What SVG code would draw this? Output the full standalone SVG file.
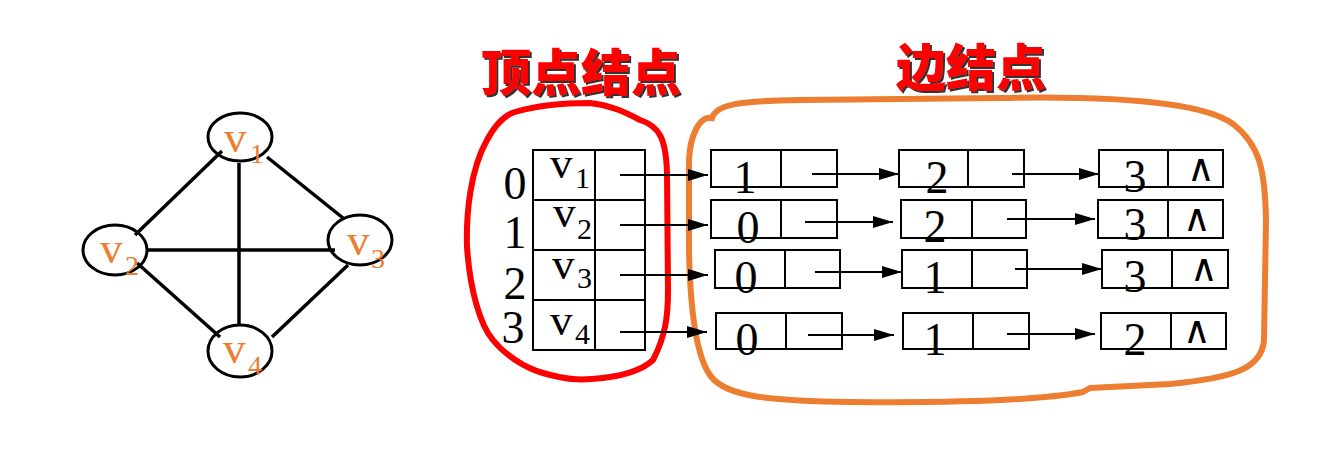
<svg xmlns="http://www.w3.org/2000/svg" width="1330" height="470" viewBox="0 0 1330 470">
<defs>
<marker id="ah" markerUnits="userSpaceOnUse" markerWidth="22" markerHeight="14" refX="20" refY="7" orient="auto"><path d="M0,1 L20,7 L0,13 z" fill="#000"/></marker>
<filter id="sh" x="-10%" y="-10%" width="130%" height="130%"><feDropShadow dx="2" dy="2" stdDeviation="0.6" flood-color="#333"/></filter>
</defs>
<style>
.vn{fill:none;stroke:#000;stroke-width:3}
.ge{stroke:#000;stroke-width:3.5;fill:none}
.ol{fill:#ed7d31;font-family:"Liberation Serif",serif}
.bx{fill:none;stroke:#000;stroke-width:2}
.tx{font-family:"Liberation Serif",serif;fill:#000}
.ar{stroke:#000;stroke-width:2;fill:none;marker-end:url(#ah)}
.ti{font-family:"Noto Sans CJK SC",sans-serif;font-weight:900;font-size:50px;fill:#ff0000;filter:url(#sh)}
.nl{font-family:"DejaVu Sans",sans-serif;font-size:38px;text-anchor:middle}
.dg{font-size:46px;text-anchor:middle}
</style>
<rect width="1330" height="470" fill="#fff"/>
<g id="graph-edges">
<line class="ge" x1="222" y1="151" x2="135" y2="235"/>
<line class="ge" x1="267" y1="157" x2="343" y2="218"/>
<line class="ge" x1="239" y1="163" x2="239" y2="325"/>
<line class="ge" x1="147" y1="250" x2="335" y2="250"/>
<line class="ge" x1="137" y1="263" x2="220" y2="337"/>
<line class="ge" x1="348" y1="265" x2="272" y2="337"/>
</g>
<g id="v1"><ellipse class="vn" cx="240" cy="137" rx="32" ry="24"/><text class="ol" font-size="45" x="224" y="152">v<tspan font-size="28" x="250" y="163">1</tspan></text></g>
<g id="v2"><ellipse class="vn" cx="115" cy="250" rx="32" ry="25"/><text class="ol" font-size="45" x="100" y="263">v<tspan font-size="28" x="125" y="275">2</tspan></text></g>
<g id="v3"><ellipse class="vn" cx="360" cy="240" rx="32" ry="25"/><text class="ol" font-size="45" x="347" y="255">v<tspan font-size="28" x="371" y="268">3</tspan></text></g>
<g id="v4"><ellipse class="vn" cx="240" cy="351" rx="32" ry="26"/><text class="ol" font-size="45" x="223" y="363">v<tspan font-size="28" x="248" y="375">4</tspan></text></g>

<g id="title-vertex"><text class="ti" x="481" y="91">顶点结点</text></g>
<g id="title-edge"><text class="ti" x="896" y="86">边结点</text></g>

<g id="red-outline"><path d="M515,112 C535,106 560,103 590,103 C610,105 625,112 640,120 C660,126 666,140 667,173 L668,290 C668,315 666,335 653,360 C640,372 620,376 603,378 C585,380 570,381 543,373 C525,368 505,355 493,340 C480,325 470,290 467,247 C466,215 470,170 487,140 C495,125 505,115 515,112 Z" fill="none" stroke="#ff0000" stroke-width="6"/></g>
<g id="orange-outline"><path d="M712,118 C716,104 740,101 800,100 L1000,98 C1100,96 1200,100 1233,124 C1260,145 1265,170 1266,220 L1264,340 C1262,370 1230,378 1170,384 L1090,388 L1083,392 C1040,400 950,403 850,402 C760,401 720,395 708,372 C695,350 690,300 689,250 L689,160 C690,135 700,115 712,118 Z" fill="none" stroke="#ed7d31" stroke-width="6"/></g>

<g id="vertex-table">
<rect class="bx" x="533" y="150" width="112" height="200"/>
<line class="bx" x1="595" y1="150" x2="595" y2="350"/>
<line class="bx" x1="533" y1="200" x2="645" y2="200"/>
<line class="bx" x1="533" y1="250" x2="645" y2="250"/>
<line class="bx" x1="533" y1="300" x2="645" y2="300"/>
<text class="tx dg" x="515" y="199">0</text>
<text class="tx dg" x="515" y="248">1</text>
<text class="tx dg" x="515" y="299">2</text>
<text class="tx dg" x="513" y="343">3</text>
<text class="tx" font-size="45" x="550" y="178">v<tspan font-size="30" x="575" y="188">1</tspan></text>
<text class="tx" font-size="45" x="553" y="227">v<tspan font-size="30" x="577" y="239">2</tspan></text>
<text class="tx" font-size="45" x="552" y="279">v<tspan font-size="30" x="577" y="288">3</tspan></text>
<text class="tx" font-size="45" x="550" y="335">v<tspan font-size="30" x="575" y="344">4</tspan></text>
</g>

<g id="e00"><rect class="bx" x="711" y="150" width="126" height="37"/><line class="bx" x1="781" y1="150" x2="781" y2="187"/><text class="tx dg" x="745" y="193">1</text></g>
<g id="e01"><rect class="bx" x="899" y="150" width="125" height="37"/><line class="bx" x1="968" y1="150" x2="968" y2="187"/><text class="tx dg" x="937" y="193">2</text></g>
<g id="e02"><rect class="bx" x="1099" y="150" width="124" height="37"/><line class="bx" x1="1168" y1="150" x2="1168" y2="187"/><text class="tx dg" x="1135" y="192">3</text><text class="nl" x="1201" y="181">∧</text></g>

<g id="e10"><rect class="bx" x="711" y="200" width="126" height="38"/><line class="bx" x1="781" y1="200" x2="781" y2="238"/><text class="tx dg" x="748" y="243">0</text></g>
<g id="e11"><rect class="bx" x="901" y="200" width="125" height="38"/><line class="bx" x1="972" y1="200" x2="972" y2="238"/><text class="tx dg" x="935" y="242">2</text></g>
<g id="e12"><rect class="bx" x="1098" y="200" width="125" height="38"/><line class="bx" x1="1168" y1="200" x2="1168" y2="238"/><text class="tx dg" x="1135" y="240">3</text><text class="nl" x="1197" y="231">∧</text></g>

<g id="e20"><rect class="bx" x="715" y="250" width="125" height="38"/><line class="bx" x1="785" y1="250" x2="785" y2="288"/><text class="tx dg" x="746" y="293">0</text></g>
<g id="e21"><rect class="bx" x="902" y="250" width="125" height="38"/><line class="bx" x1="972" y1="250" x2="972" y2="288"/><text class="tx dg" x="935" y="293">1</text></g>
<g id="e22"><rect class="bx" x="1102" y="250" width="126" height="38"/><line class="bx" x1="1172" y1="250" x2="1172" y2="288"/><text class="tx dg" x="1135" y="292">3</text><text class="nl" x="1204" y="281">∧</text></g>

<g id="e30"><rect class="bx" x="716" y="313" width="126" height="36"/><line class="bx" x1="786" y1="313" x2="786" y2="349"/><text class="tx dg" x="747" y="355">0</text></g>
<g id="e31"><rect class="bx" x="903" y="313" width="126" height="36"/><line class="bx" x1="973" y1="313" x2="973" y2="349"/><text class="tx dg" x="935" y="355">1</text></g>
<g id="e32"><rect class="bx" x="1101" y="313" width="125" height="36"/><line class="bx" x1="1171" y1="313" x2="1171" y2="349"/><text class="tx dg" x="1135" y="355">2</text><text class="nl" x="1197" y="343">∧</text></g>

<g id="connectors">
<line class="ar" x1="620" y1="175" x2="708" y2="175"/>
<line class="ar" x1="620" y1="225" x2="708" y2="225"/>
<line class="ar" x1="620" y1="275" x2="708" y2="275"/>
<line class="ar" x1="620" y1="332" x2="707" y2="332"/>
<line class="ar" x1="812" y1="174" x2="899" y2="174"/>
<line class="ar" x1="1012" y1="174" x2="1099" y2="174"/>
<line class="ar" x1="805" y1="222" x2="893" y2="222"/>
<line class="ar" x1="1007" y1="219" x2="1095" y2="219"/>
<line class="ar" x1="815" y1="272" x2="902" y2="272"/>
<line class="ar" x1="1015" y1="269" x2="1102" y2="269"/>
<line class="ar" x1="808" y1="335" x2="894" y2="335"/>
<line class="ar" x1="1007" y1="334" x2="1095" y2="334"/>
</g>
</svg>
